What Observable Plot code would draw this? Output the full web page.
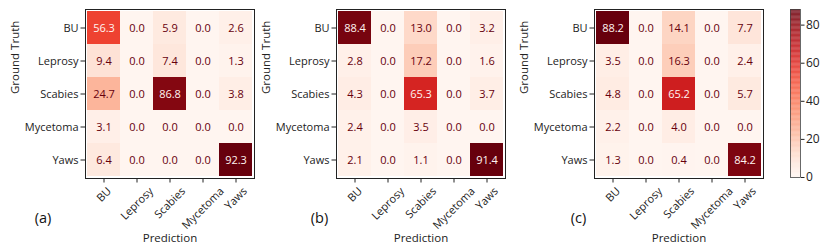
<!DOCTYPE html>
<html>
<head>
<meta charset="utf-8">
<script src="https://cdn.jsdelivr.net/npm/d3@7"></script>
<script src="https://cdn.jsdelivr.net/npm/@observablehq/plot@0.6"></script>
<style>
  html, body { margin: 0; padding: 0; background: #fff; }
  #root { position: relative; width: 831px; height: 252px; overflow: hidden; font-family: "Open Sans", sans-serif; }
  #root svg { position: absolute; top: 0; overflow: visible; }
</style>
</head>
<body>
<div id="root"></div>
<script>
const classes = ["BU", "Leprosy", "Scabies", "Mycetoma", "Yaws"];
// rows = ground truth, columns = prediction
const matrixA = [
  [56.3, 0.0, 5.9, 0.0, 2.6],
  [9.4, 0.0, 7.4, 0.0, 1.3],
  [24.7, 0.0, 86.8, 0.0, 3.8],
  [3.1, 0.0, 0.0, 0.0, 0.0],
  [6.4, 0.0, 0.0, 0.0, 92.3]
];
const matrixB = [
  [88.4, 0.0, 13.0, 0.0, 3.2],
  [2.8, 0.0, 17.2, 0.0, 1.6],
  [4.3, 0.0, 65.3, 0.0, 3.7],
  [2.4, 0.0, 3.5, 0.0, 0.0],
  [2.1, 0.0, 1.1, 0.0, 91.4]
];
const matrixC = [
  [88.2, 0.0, 14.1, 0.0, 7.7],
  [3.5, 0.0, 16.3, 0.0, 2.4],
  [4.8, 0.0, 65.2, 0.0, 5.7],
  [2.2, 0.0, 4.0, 0.0, 0.0],
  [1.3, 0.0, 0.4, 0.0, 84.2]
];
const panelLabels = ["(a)", "(b)", "(c)"];
const colorbarTicks = [0, 20, 40, 60, 80];
const xLabel = "Prediction";
const yLabel = "Ground Truth";

const root = document.getElementById("root");
const FONT = 11;
const FAMILY = "Open Sans, sans-serif";

// measure label widths for centred rotated tick labels (matplotlib ha="center")
const ctx = document.createElement("canvas").getContext("2d");
ctx.font = `${FONT}px "Open Sans"`;
const textW = s => ctx.measureText(s).width || s.length * FONT * 0.55;

function rotatedTickLabels() {
  return classes.map(c => {
    const L = textW(c);
    const off = 7 + (L + FONT) / (2 * Math.SQRT2);
    return Plot.text([c], {x: d => d, frameAnchor: "bottom", rotate: -45, textAnchor: "middle",
      lineAnchor: "middle", dy: off, fontSize: FONT, fill: "#222"});
  });
}

function panel(matrix, label, left, labelDx) {
  const data = [];
  matrix.forEach((row, i) => row.forEach((v, j) => data.push({truth: classes[i], pred: classes[j], value: v})));
  const vmax = d3.max(data, d => d.value);
  const thresh = vmax / 2;
  const W = 260;
  const svg = Plot.plot({
    width: W,
    height: 252,
    marginLeft: 85,
    marginRight: W - 85 - 169,
    marginTop: 9,
    marginBottom: 74,
    style: {fontSize: FONT + "px", fontFamily: FAMILY, color: "#222", background: "transparent", overflow: "visible"},
    x: {type: "band", domain: classes, padding: 0, label: null},
    y: {type: "band", domain: classes, padding: 0, label: null},
    color: {type: "linear", scheme: "reds", domain: [0, vmax]},
    marks: [
      Plot.cell(data, {x: "pred", y: "truth", fill: "value", inset: 0}),
      Plot.text(data, {x: "pred", y: "truth", text: d => d.value.toFixed(1),
        fill: d => d.value > thresh ? "#fff5f0" : "#67000d", fontSize: FONT}),
      Plot.frame({stroke: "#222", strokeWidth: 1}),
      Plot.axisY({tickSize: 4.5, tickPadding: 2.5, fontSize: FONT, label: null}),
      Plot.axisX({tickSize: 4.5, tickFormat: () => "", label: null}),
      ...rotatedTickLabels(),
      Plot.text([xLabel], {frameAnchor: "bottom", lineAnchor: "middle", dy: 60, fontSize: 11.5, fill: "#222"}),
      Plot.text([yLabel], {frameAnchor: "left", dx: -70, rotate: -90, fontSize: 11.5, fill: "#222"}),
      Plot.text([label], {frameAnchor: "bottom-left", lineAnchor: "middle", textAnchor: "middle", dx: labelDx, dy: 40, fontSize: 14.5, fill: "#111"})
    ]
  });
  svg.style.left = left + "px";
  root.appendChild(svg);
}

panel(matrixA, panelLabels[0], 0, -42.5);
panel(matrixB, panelLabels[1], 251, -17);
panel(matrixC, panelLabels[2], 509, -16);

// colorbar (for panel c)
const cbMax = d3.max(matrixC.flat());
const steps = d3.range(0, 200).map(i => ({y1: cbMax * i / 200, y2: cbMax * (i + 1) / 200}));
const cb = Plot.plot({
  width: 51,
  height: 252,
  marginLeft: 10,
  marginRight: 31,
  marginTop: 9,
  marginBottom: 75,
  style: {fontSize: "12px", fontFamily: FAMILY, color: "#222", background: "transparent", overflow: "visible"},
  x: {axis: null, domain: [0, 1]},
  y: {domain: [0, cbMax], axis: null},
  color: {type: "linear", scheme: "reds", domain: [0, cbMax]},
  marks: [
    Plot.rect(steps, {x1: 0, x2: 1, y1: "y1", y2: "y2", fill: d => (d.y1 + d.y2) / 2}),
    Plot.frame({stroke: "#444", strokeWidth: 0.8}),
    Plot.axisY(colorbarTicks, {anchor: "right", tickSize: 3.5, tickPadding: 2, fontSize: 12, label: null})
  ]
});
cb.style.left = "780px";
root.appendChild(cb);
</script>
</body>
</html>
